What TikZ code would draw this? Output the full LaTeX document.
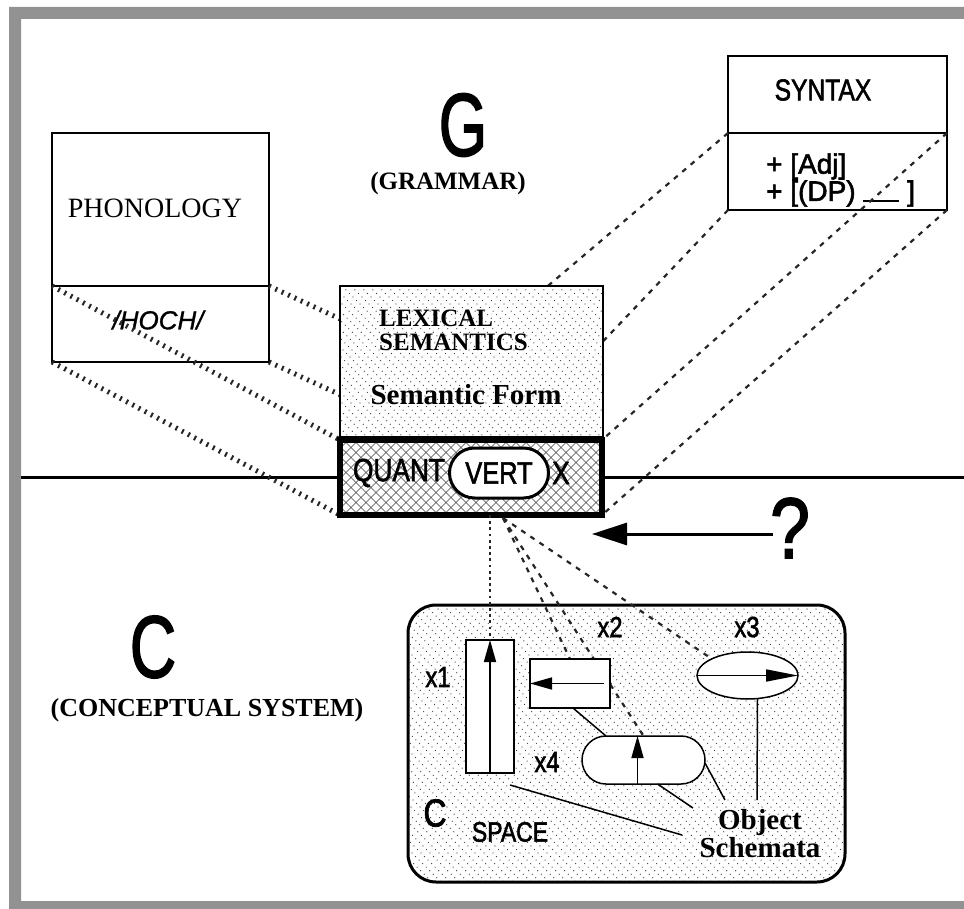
\documentclass[tikz,border=0pt]{standalone}
\usepackage{fontspec}
\usepackage{graphicx}
\setmainfont{Liberation Serif}
\newfontfamily\hv[FakeBold=2]{Liberation Sans}
\newfontfamily\hvit[FakeBold=1]{Liberation Sans Italic}
\usetikzlibrary{arrows.meta,shapes.misc,shapes.geometric}
\definecolor{framegray}{HTML}{929292}
\newcommand\fs[1]{\fontsize{#1}{#1}\selectfont}
\newcommand\fsl[2]{\fontsize{#1}{#2}\selectfont}
\newcommand\narrow[2]{\scalebox{#1}[1]{#2}}
\newcommand\nr[1]{\scalebox{0.82}[1]{#1}}

\begin{document}
\begin{tikzpicture}[x=1pt,y=-1pt,
  box/.style={draw,line width=1.4pt,fill=white,inner sep=0,outer sep=0,anchor=north west},
  hatchdots/.style={black!75,line width=1.3pt,line cap=round,dash pattern=on 0pt off 5pt},
  crossln/.style={black!75,line width=0.65pt},
  smalldots/.style={path picture={\foreach \s in {-225,-216,...,225}{\draw[hatchdots] ([xshift=\s pt]path picture bounding box.center) ++(-160,-160) -- ++(320,320);}}},
  bigdots/.style={path picture={\foreach \s in {-369,-360,...,369}{\draw[hatchdots] ([xshift=\s pt]path picture bounding box.center) ++(-290,-290) -- ++(580,580);}}},
  crosshatch/.style={path picture={\foreach \s in {-190,-180,...,190}{\draw[crossln] ([xshift=\s pt]path picture bounding box.center) ++(-50,-50) -- ++(100,100); \draw[crossln] ([xshift=\s pt]path picture bounding box.center) ++(50,-50) -- ++(-100,100);}}},
  tickline/.style={black!85,line width=5pt,dash pattern=on 2pt off 5pt},
  dashline/.style={black!85,line width=2.2pt,dash pattern=on 5pt off 6pt},
  dotline/.style={black!85,line width=2.8pt,dash pattern=on 2.8pt off 3.4pt},
  objbox/.style={draw,line width=1.5pt,fill=white,inner sep=0,outer sep=0},
  objarrow/.style={line width=1.7pt,-{Triangle[length=22pt,width=12pt]}},
  leader/.style={line width=1.5pt},
  sans/.style={font=\hv\fs{#1},inner sep=0},
  bold/.style={font=\bfseries\fs{#1},inner sep=0}
]
\useasboundingbox (0,0) rectangle (964,909);

% grey frame
\fill[framegray,even odd rule] (9,7) rectangle (964,909) (21,19) rectangle (964,901);

% dividing line between grammar and conceptual system
\coordinate (hl) at (21,477);
\coordinate (hr) at (964,477);
\draw[line width=3pt] (hl) -- (hr);

% phonology module
\node[box,minimum width=217pt,minimum height=153pt] (phon) at (52,133) {};
\node[box,minimum width=217pt,minimum height=76pt] (hoch) at (52,286) {};
\node[font=\fs{28},inner sep=0] (phonlbl) at (155,208) {PHONOLOGY};
\node[font=\hvit\fs{26},inner sep=0] (hochlbl) at (158,320) {/HOCH/};

% syntax module
\node[box,minimum width=219pt,minimum height=77pt] (syn) at (728,56) {};
\node[box,minimum width=219pt,minimum height=77pt] (synf) at (728,133) {};
\node[sans=30] (synlbl) at (823,90) {\nr{SYNTAX}};
\node[font=\hv\fsl{28}{24},inner sep=0,anchor=west,align=left] (synfeat) at (766,180)
  {+ [Adj]\\+ [(DP) \rule[-1pt]{36pt}{1.8pt} ]};

% targets of the projection lines on the lexical entry
\coordinate (tA) at (370,437);
\coordinate (tB) at (435,518);

% projections from phonology
\draw[tickline] (hoch.north west) -- (340,440);
\draw[tickline] (hoch.south west) -- (340,515);
\draw[tickline] (hoch.north east) -- (602,440);
\draw[tickline] (hoch.south east) -- (602,515);
% projections from syntax
\draw[dashline] (synf.north west) -- (tA);
\draw[dashline] (synf.south west) -- (tB);
\draw[dashline] (synf.north east) -- (602,440);
\draw[dashline] (synf.south east) -- (602,515);

% lexical semantics
\node[box,fill=white,smalldots,minimum width=263pt,minimum height=151pt] (lex) at (340,286) {};
\node[font=\bfseries\fsl{25}{24},inner sep=0,anchor=west,align=left] (lexlbl) at (379,330) {LEXICAL\\SEMANTICS};
\node[bold=29] (sf) at (466,395) {Semantic Form};

% semantic form core
\node[draw,line width=6.5pt,fill=white,crosshatch,inner sep=0,outer sep=0,anchor=north west,
      minimum width=262pt,minimum height=75pt] (core) at (340,440) {};
\node[sans=32] (quant) at (399,473) {\nr{QUANT}};
\node[draw,line width=3pt,fill=white,rounded rectangle,minimum width=99pt,minimum height=50pt,inner sep=0,
      font=\hv\fs{31}] (vert) at (499,473) {\nr{VERT}};
\node[sans=32] (xvar) at (561,473) {\nr{X}};

% grammar / conceptual system labels
\node[sans=89] (G) at (463,125) {\narrow{0.7}{G}};
\node[bold=25] (gram) at (448,183) {(GRAMMAR)};
\node[sans=88] (Cbig) at (153,647) {\narrow{0.73}{C}};
\node[bold=26] (csys) at (207,710) {(CONCEPTUAL SYSTEM)};

% interface question
\node[sans=86] (q) at (790,528) {\narrow{0.83}{?}};
\coordinate (qtail) at (773,534);
\coordinate (qtip) at (592,534);
\draw[line width=3pt,-{Triangle[length=35pt,width=22pt]}] (qtail) -- (qtip);

% conceptual space
\node[draw,line width=3pt,fill=white,bigdots,rounded corners=28pt,inner sep=0,outer sep=0,anchor=north west,
      minimum width=437pt,minimum height=277pt] (space) at (408,605) {};

% objects
\node[objbox,minimum width=48pt,minimum height=133pt] (xa) at (490,706.5) {};
\node[objbox,minimum width=80pt,minimum height=49pt] (xb) at (570,683.5) {};
\node[objbox,ellipse,minimum width=101pt,minimum height=47pt] (xc) at (747.5,675.5) {};
\node[objbox,rounded rectangle,minimum width=123pt,minimum height=48pt] (xd) at (643.5,760) {};

% links from the variable to the objects
\coordinate (fan) at (503,518);
\draw[dotline] (xa.north |- core.south) -- (xa.north);
\draw[dashline] (fan) -- (xb.north);
\draw[dashline] (fan) -- (xc.north west);
\draw[dashline] (fan) -- (xd.north);
% x2 again, over the link to x4
\node[objbox,minimum width=80pt,minimum height=49pt] (xb2) at (570,683.5) {};

% axis arrows
\draw[objarrow] (xa.south) -- (xa.north);
\draw[objarrow] ([xshift=-6pt]xb2.east) -- (xb2.west);
\draw[objarrow,-{Triangle[length=32pt,width=12pt]}] (xc.west) -- (xc.east);
\draw[objarrow] ([xshift=-6pt]xd.south) -- ([xshift=-6pt]xd.north);

% labels in the space
\node[sans=29] (lx1) at (438,677) {\nr{x1}};
\node[sans=29] (lx2) at (610,627) {\nr{x2}};
\node[sans=29] (lx3) at (747,627) {\nr{x3}};
\node[sans=29] (lx4) at (547,762) {\nr{x4}};
\node[sans=39] (Csmall) at (435,813) {\nr{C}};
\node[sans=28] (spacelbl) at (510,832) {\nr{SPACE}};
\node[font=\bfseries\fsl{29}{28},inner sep=0,align=center] (os) at (760,834) {Object\\Schemata};

% leaders to object schemata
\coordinate (l1a) at (510,785);
\coordinate (l1b) at (682,835);
\coordinate (l3b) at (693,808);
\coordinate (l4b) at (725,800);
\coordinate (l5b) at (757,800);
\draw[leader] (l1a) -- (l1b);
\draw[leader] ([xshift=3pt]xb2.south) -- (xd.north west);
\draw[leader] ([xshift=14pt]xd.south) -- (l3b);
\draw[leader] ([yshift=-3pt]xd.east) -- (l4b);
\draw[leader] ([xshift=10pt]xc.south) -- (l5b);
\end{tikzpicture}
\end{document}
